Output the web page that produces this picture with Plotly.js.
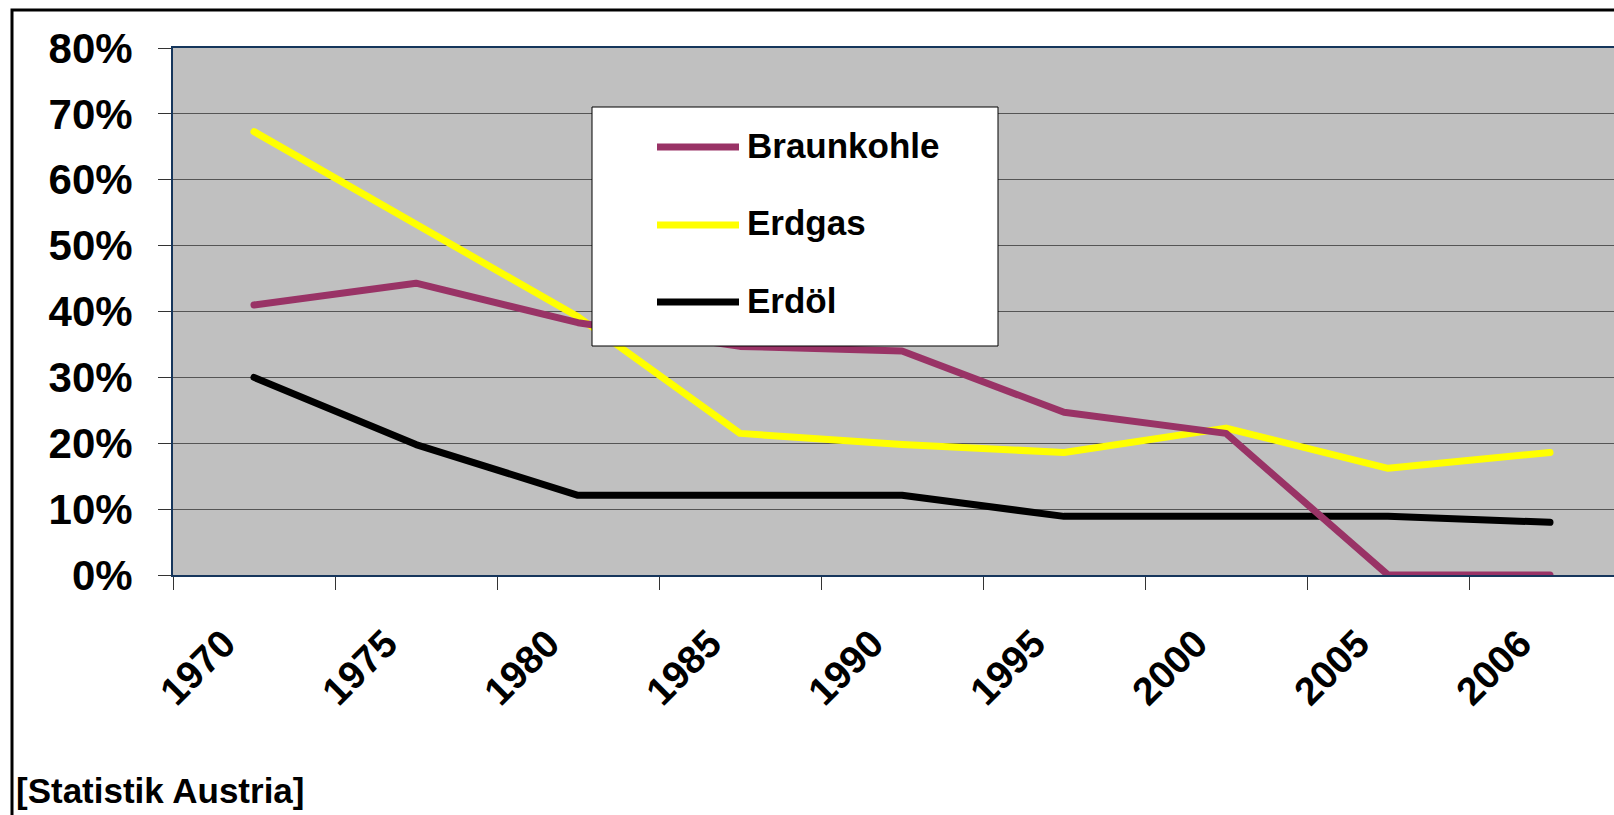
<!DOCTYPE html>
<html>
<head>
<meta charset="utf-8">
<script src="https://cdn.plot.ly/plotly-3.0.1.min.js"></script>
<style>
  html, body { margin: 0; padding: 0; background: #ffffff; overflow: hidden; }
  #chart { width: 1614px; height: 815px; }
  .scatterlayer .js-line { stroke-linecap: round !important; stroke-linejoin: round !important; }
</style>
</head>
<body>
<div id="chart"></div>
<script>
// ---- data ----
const years = ['1970', '1975', '1980', '1985', '1990', '1995', '2000', '2005', '2006'];
const braunkohle = [41.0, 44.3, 38.3, 34.7, 34.0, 24.7, 21.5, 0, 0];
const erdgas = [67.3, 53.4, 39.2, 21.5, 19.8, 18.6, 22.3, 16.2, 18.6];
const erdoel = [30.0, 19.8, 12.1, 12.1, 12.1, 8.9, 8.9, 8.9, 8.0];
const seriesNames = ['Braunkohle', 'Erdgas', 'Erdöl'];
const seriesColors = ['#993366', '#FFFF00', '#000000'];
const seriesValues = [braunkohle, erdgas, erdoel];
const yTickVals = [0, 10, 20, 30, 40, 50, 60, 70, 80];
const yTickText = ['0%', '10%', '20%', '30%', '40%', '50%', '60%', '70%', '80%'];
const sourceText = '[Statistik Austria]';

// ---- layout geometry ----
const W = 1614, H = 815;
const M = { l: 173, r: 0, t: 48, b: 240 };
const plotW = W - M.l - M.r, plotH = H - M.t - M.b;
const px = x => (x - M.l) / plotW;          // pixel -> paper x
const py = y => (H - M.b - y) / plotH;      // pixel -> paper y
const FONT = 'Liberation Sans, Arial, sans-serif';

// traces (drawn so that Erdgas lies on top, Erdöl at the bottom)
const traces = [];
for (let i = seriesNames.length - 1; i >= 0; i--) {
  traces.push({
    type: 'scatter', mode: 'lines', name: seriesNames[i],
    x: years, y: seriesValues[i],
    line: { color: seriesColors[i], width: 7 },
    showlegend: false, hoverinfo: 'x+y+name'
  });
}

// custom legend box (shapes + annotations) built from the series arrays
const shapes = [
  // outer chart frame
  { type: 'rect', xref: 'paper', yref: 'paper', x0: px(12), x1: px(1700), y0: py(900), y1: py(10),
    line: { color: '#000000', width: 3 }, fillcolor: 'rgba(0,0,0,0)', layer: 'above' },
  // legend box
  { type: 'rect', xref: 'paper', yref: 'paper', x0: px(592), x1: px(998), y0: py(346), y1: py(107),
    line: { color: '#000000', width: 1 }, fillcolor: '#ffffff', layer: 'above' }
];
const annotations = [];
const rowY = [147, 225, 302];
seriesNames.forEach((n, i) => {
  shapes.push({ type: 'line', xref: 'paper', yref: 'paper', x0: px(657), x1: px(739), y0: py(rowY[i]), y1: py(rowY[i]),
    line: { color: seriesColors[i], width: 7 }, layer: 'above' });
  annotations.push({ xref: 'paper', yref: 'paper', x: px(745), y: py(rowY[i]), xanchor: 'left', yanchor: 'middle',
    text: '<b>' + n + '</b>', showarrow: false, font: { family: FONT, size: 35, color: '#000000' }, yshift: 2 });
});
annotations.push({ xref: 'paper', yref: 'paper', x: px(14), y: py(790), xanchor: 'left', yanchor: 'middle',
  text: '<b>' + sourceText + '</b>', showarrow: false, font: { family: FONT, size: 35, color: '#000000' } });

const layout = {
  width: W, height: H,
  margin: M,
  paper_bgcolor: '#ffffff',
  plot_bgcolor: '#C0C0C0',
  showlegend: false,
  font: { family: FONT, color: '#000000' },
  xaxis: {
    type: 'category', range: [-0.5, (W - M.l) / (plotW / 8.895) - 0.5],
    tickson: 'boundaries', ticks: 'outside', ticklen: 13, tickwidth: 1, tickcolor: '#333333',
    showgrid: false, zeroline: false,
    showline: true, linecolor: '#16365C', linewidth: 2, mirror: true,
    tickangle: -45, tickfont: { family: FONT, size: 39, color: '#000000', weight: 'bold' },
    ticklabelstandoff: 28, ticklabelshift: -30, layer: 'below traces'
  },
  yaxis: {
    range: [0, 80], tickvals: yTickVals, ticktext: yTickText,
    ticks: 'outside', ticklen: 13, tickwidth: 1, tickcolor: '#333333',
    showgrid: true, gridcolor: '#555555', gridwidth: 1, zeroline: false,
    showline: true, linecolor: '#16365C', linewidth: 2, mirror: true,
    tickfont: { family: FONT, size: 42, color: '#000000', weight: 'bold' },
    ticklabelstandoff: 17
  },
  shapes: shapes,
  annotations: annotations
};

Plotly.newPlot('chart', traces, layout, { staticPlot: true, displayModeBar: false });
</script>
</body>
</html>
